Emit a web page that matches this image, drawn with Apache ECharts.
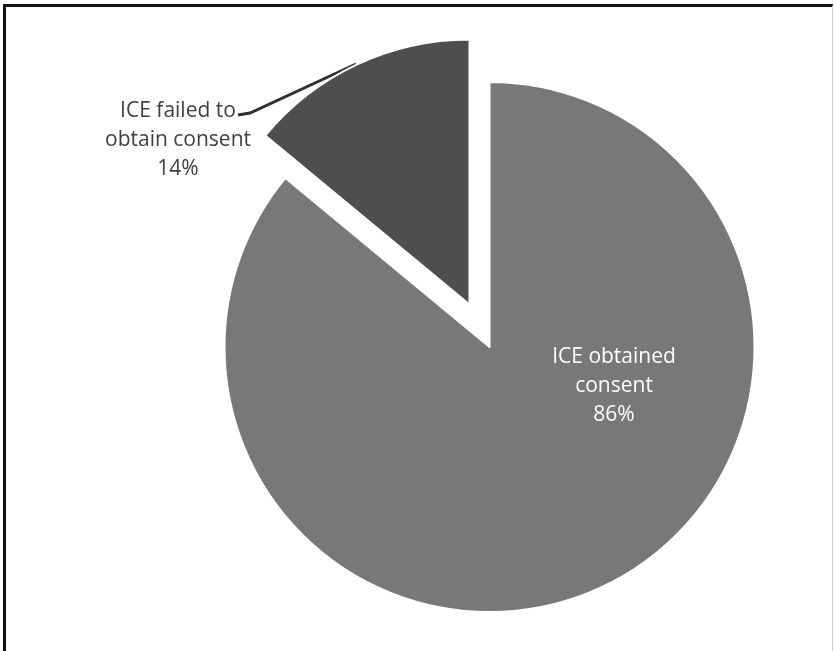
<!DOCTYPE html>
<html>
<head>
<meta charset="utf-8">
<script src="https://cdn.jsdelivr.net/npm/echarts@6/dist/echarts.min.js"></script>
<style>
html,body{margin:0;padding:0;background:#fff;}
#chart{position:absolute;left:0;top:0;width:834px;height:651px;}
#frame{position:absolute;left:3px;top:4px;width:826px;height:660px;border-top:3px solid #111;border-left:3px solid #111;border-right:1px solid #d0d0d0;pointer-events:none;}
</style>
</head>
<body>
<div id="chart"></div>
<div id="frame"></div>
<script>
const categories = ["ICE obtained\nconsent", "ICE failed to\nobtain consent"];
const values = [86, 14];
const colors = ["#787878", "#4e4e4e"];
const explodedIndex = 1;

const CX = 489.5, CY = 347, R = 265, OFFSET = 47;
// bisector angle of exploded slice (clockwise from 12 o'clock)
const total = values.reduce((a, b) => a + b, 0);
let start = 0;
for (let i = 0; i < explodedIndex; i++) start += values[i];
const midFrac = (start + values[explodedIndex] / 2) / total;
const ang = midFrac * 2 * Math.PI;
const ox = CX + OFFSET * Math.sin(ang);
const oy = CY - OFFSET * Math.cos(ang);

const font = {
  fontFamily: 'Open Sans, Liberation Sans, sans-serif',
  fontSize: 21,
  lineHeight: 29,
  align: 'center'
};

function makeData(showIndex) {
  return categories.map((c, i) => {
    const visible = (showIndex === -1) ? i !== explodedIndex : i === showIndex;
    return {
      name: c,
      value: values[i],
      itemStyle: visible ? {color: colors[i], borderColor: '#fff', borderWidth: 2}
                         : {color: 'rgba(0,0,0,0)', borderWidth: 0},
      label: {show: visible},
      labelLine: {show: visible && i === explodedIndex}
    };
  });
}

const chart = echarts.init(document.getElementById('chart'), null, {renderer: 'canvas'});
chart.setOption({
  animation: false,
  series: [{
    type: 'pie',
    center: [CX, CY],
    radius: R,
    startAngle: 90,
    clockwise: true,
    silent: true,
    avoidLabelOverlap: false,
    data: makeData(-1),
    label: Object.assign({
      position: 'inside', color: '#fff',
      formatter: p => p.name + '\n' + p.value + '%'
    }, font),
    labelLayout: function () {
      return {x: 614, y: 386, align: 'center', verticalAlign: 'middle'};
    }
  }, {
    type: 'pie',
    center: [ox, oy],
    radius: R,
    startAngle: 90,
    clockwise: true,
    silent: true,
    avoidLabelOverlap: false,
    data: makeData(explodedIndex),
    label: Object.assign({
      position: 'outside', color: '#404040',
      formatter: p => p.name + '\n' + p.value + '%'
    }, font),
    labelLine: {lineStyle: {color: '#303030', width: 3}},
    labelLayout: function () {
      return {
        x: 178, y: 140, align: 'center', verticalAlign: 'middle',
        labelLinePoints: [[356, 64], [250, 113], [238, 115]]
      };
    }
  }]
});
</script>
</body>
</html>
